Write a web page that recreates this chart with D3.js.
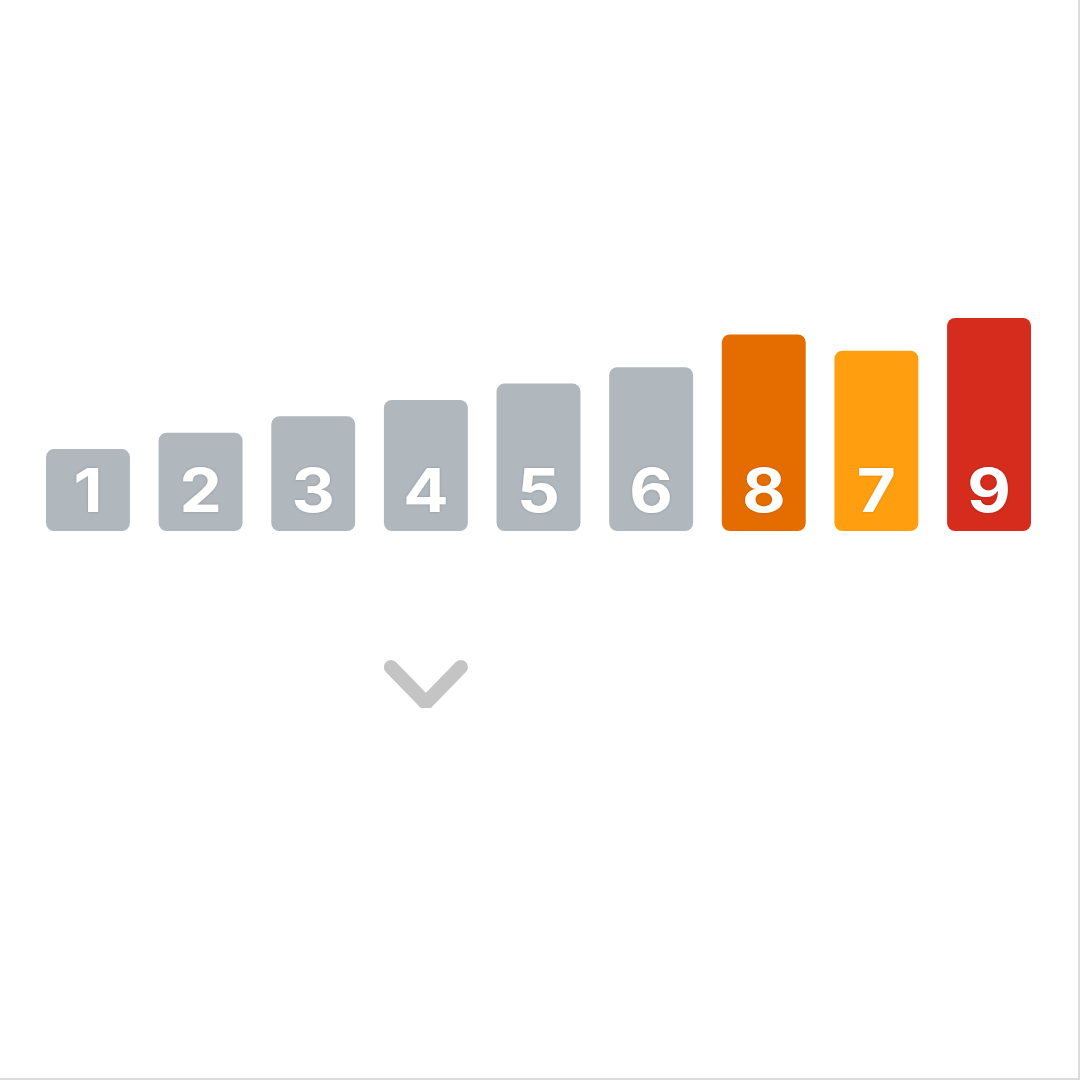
<!DOCTYPE html>
<html><head><meta charset="utf-8">
<script src="https://cdn.jsdelivr.net/npm/d3@7"></script>
<style>
html,body{margin:0;padding:0;background:#fff;}
svg{display:block;}
</style></head>
<body>
<script>
const labels = ["1","2","3","4","5","6","8","7","9"];
const values = [1,2,3,4,5,6,8,7,9];
const colors = ["#b0b8bd","#b0b8bd","#b0b8bd","#b0b8bd","#b0b8bd","#b0b8bd","#e56d00","#ff9f10","#d52c1d"];
const markerIndex = 3;

const W = 1080, H = 1080;
const svg = d3.select("body").append("svg").attr("width", W).attr("height", H);

const defs = svg.append("defs");
const f = defs.append("filter").attr("id","halo").attr("x","-20%").attr("y","-20%").attr("width","140%").attr("height","140%");
f.append("feGaussianBlur").attr("in","SourceAlpha").attr("stdDeviation",1.5).attr("result","b");
f.append("feFlood").attr("flood-color","#000").attr("flood-opacity",0.18);
f.append("feComposite").attr("in2","b").attr("operator","in").attr("result","s");
const m = f.append("feMerge");
m.append("feMergeNode").attr("in","s");
m.append("feMergeNode").attr("in","SourceGraphic");

svg.append("rect").attr("x",0).attr("y",0).attr("width",W).attr("height",H).attr("fill","#fff");
svg.append("line").attr("x1",1079).attr("x2",1079).attr("y1",0).attr("y2",1080).attr("stroke","#dcdcdc").attr("stroke-width",2);
svg.append("line").attr("x1",0).attr("x2",1080).attr("y1",1079).attr("y2",1079).attr("stroke","#dcdcdc").attr("stroke-width",2);

const x = d3.scaleBand().domain(d3.range(labels.length)).range([46, 1031]).paddingInner(0.255).paddingOuter(0);
const y = d3.scaleLinear().domain([-4, 9]).range([531, 318]);

const g = svg.append("g");
g.selectAll("rect.bar").data(values).join("rect")
  .attr("class","bar")
  .attr("x",(d,i)=>x(i))
  .attr("y",d=>y(d))
  .attr("width",x.bandwidth())
  .attr("height",d=>y(-4)-y(d))
  .attr("rx",8).attr("ry",8)
  .attr("fill",(d,i)=>colors[i]);

g.selectAll("text.lbl").data(labels).join("text")
  .attr("class","lbl")
  .attr("transform",(d,i)=>`translate(${x(i)+x.bandwidth()/2},512) scale(1.12,1)`)
  .attr("text-anchor","middle")
  .attr("font-family","Inter, 'Open Sans', sans-serif")
  .attr("font-weight","bold")
  .attr("font-size",60)
  .attr("fill","#fff")
  .attr("filter","url(#halo)")
  .text(d=>d);

const cx = x(markerIndex) + x.bandwidth()/2;
svg.append("path")
  .attr("d", d3.line()([[cx-35,667],[cx,703],[cx+35,667]]))
  .attr("fill","none")
  .attr("stroke","#c4c4c4")
  .attr("stroke-width",14)
  .attr("stroke-linecap","round")
  .attr("stroke-linejoin","bevel");
</script>
</body></html>
